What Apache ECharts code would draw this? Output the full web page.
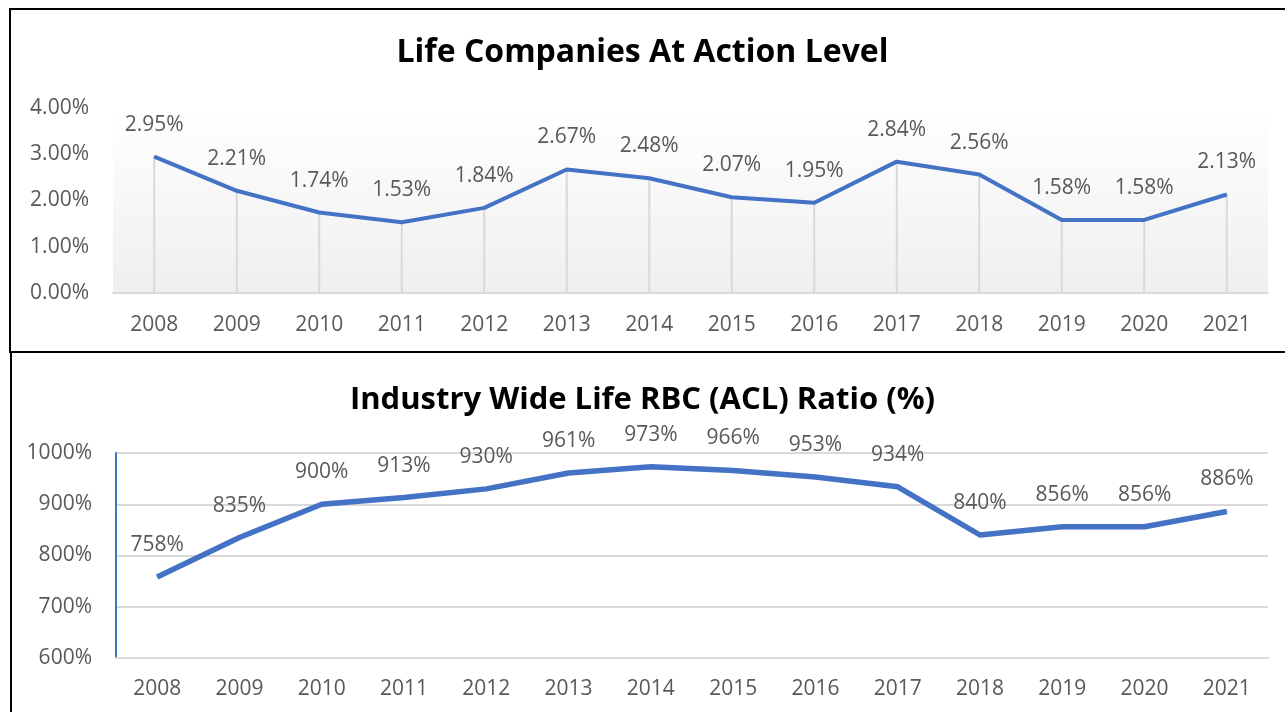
<!DOCTYPE html>
<html>
<head>
<meta charset="UTF-8">
<title>Life RBC</title>
<script src="https://cdn.jsdelivr.net/npm/echarts@6/dist/echarts.min.js"></script>
<style>
body {
    padding: 0;
    margin: 0;
    background: #fff;
}
#main { width: 1285px; height: 712px; }
</style>
</head>
<body>
<div id="main"></div>
<script>
// data
var years = ['2008','2009','2010','2011','2012','2013','2014','2015','2016','2017','2018','2019','2020','2021'];
var actionLevel = [2.95, 2.21, 1.74, 1.53, 1.84, 2.67, 2.48, 2.07, 1.95, 2.84, 2.56, 1.58, 1.58, 2.13];
var rbcRatio = [758, 835, 900, 913, 930, 961, 973, 966, 953, 934, 840, 856, 856, 886];
var topTitle = 'Life Companies At Action Level';
var bottomTitle = 'Industry Wide Life RBC (ACL) Ratio (%)';

var blue = '#4472C4';
var grey = '#595959';
var font = 'Open Sans';

var chart = echarts.init(document.getElementById('main'));

var option = {
    animation: false,
    textStyle: { fontFamily: font },
    title: [
        { text: topTitle, left: 'center', top: 32,
          textStyle: { fontSize: 32, fontWeight: 'bold', color: '#000', fontFamily: font } },
        { text: bottomTitle, left: 'center', top: 380,
          textStyle: { fontSize: 31, fontWeight: 'bold', color: '#000', fontFamily: font } }
    ],
    graphic: [
        { type: 'rect', shape: { x: 10, y: 9, width: 1300, height: 343 },
          style: { fill: 'none', stroke: '#000', lineWidth: 2 }, z: 100 },
        { type: 'rect', shape: { x: 11, y: 352, width: 1300, height: 400 },
          style: { fill: 'none', stroke: '#000', lineWidth: 2 }, z: 100 }
    ],
    grid: [
        { left: 113, right: 17, top: 108, height: 185, show: true, borderWidth: 0,
          backgroundColor: new echarts.graphic.LinearGradient(0, 0, 0, 1, [
              { offset: 0, color: '#ffffff' },
              { offset: 1, color: '#efefef' }
          ]) },
        { left: 116, right: 17, top: 453, height: 205 }
    ],
    xAxis: [
        { type: 'category', gridIndex: 0, data: years,
          axisLine: { lineStyle: { color: '#d9d9d9', width: 2 } },
          axisTick: { show: false },
          axisLabel: { color: grey, fontSize: 21, margin: 22 } },
        { type: 'category', gridIndex: 1, data: years,
          axisLine: { lineStyle: { color: '#d9d9d9', width: 2 } },
          axisTick: { show: false },
          axisLabel: { color: grey, fontSize: 21, margin: 21 } }
    ],
    yAxis: [
        { type: 'value', gridIndex: 0, min: 0, max: 4, interval: 1,
          axisLine: { show: false }, axisTick: { show: false },
          splitLine: { show: false },
          axisLabel: { color: grey, fontSize: 21, margin: 24,
                       formatter: function (v) { return v.toFixed(2) + '%'; } } },
        { type: 'value', gridIndex: 1, min: 600, max: 1000, interval: 100,
          axisLine: { show: true, lineStyle: { color: blue, width: 2 } },
          axisTick: { show: false },
          splitLine: { lineStyle: { color: '#d9d9d9', width: 2 } },
          axisLabel: { color: grey, fontSize: 21, margin: 24,
                       formatter: function (v) { return v + '%'; } } }
    ],
    series: [
        { type: 'bar', xAxisIndex: 0, yAxisIndex: 0, data: actionLevel,
          barWidth: 2, silent: true, itemStyle: { color: '#d9d9d9' }, z: 1 },
        { type: 'line', xAxisIndex: 0, yAxisIndex: 0, data: actionLevel,
          symbol: 'circle', symbolSize: 1, z: 3,
          lineStyle: { color: blue, width: 4 }, itemStyle: { color: blue },
          label: { show: true, position: 'top', distance: 21, color: grey, fontSize: 21,
                   formatter: function (p) { return p.value.toFixed(2) + '%'; } } },
        { type: 'line', xAxisIndex: 1, yAxisIndex: 1, data: rbcRatio,
          symbol: 'circle', symbolSize: 1, z: 3,
          lineStyle: { color: blue, width: 5.5 }, itemStyle: { color: blue },
          label: { show: true, position: 'top', distance: 21, color: grey, fontSize: 21,
                   formatter: function (p) { return p.value + '%'; } } }
    ]
};
chart.setOption(option);
</script>
</body>
</html>
